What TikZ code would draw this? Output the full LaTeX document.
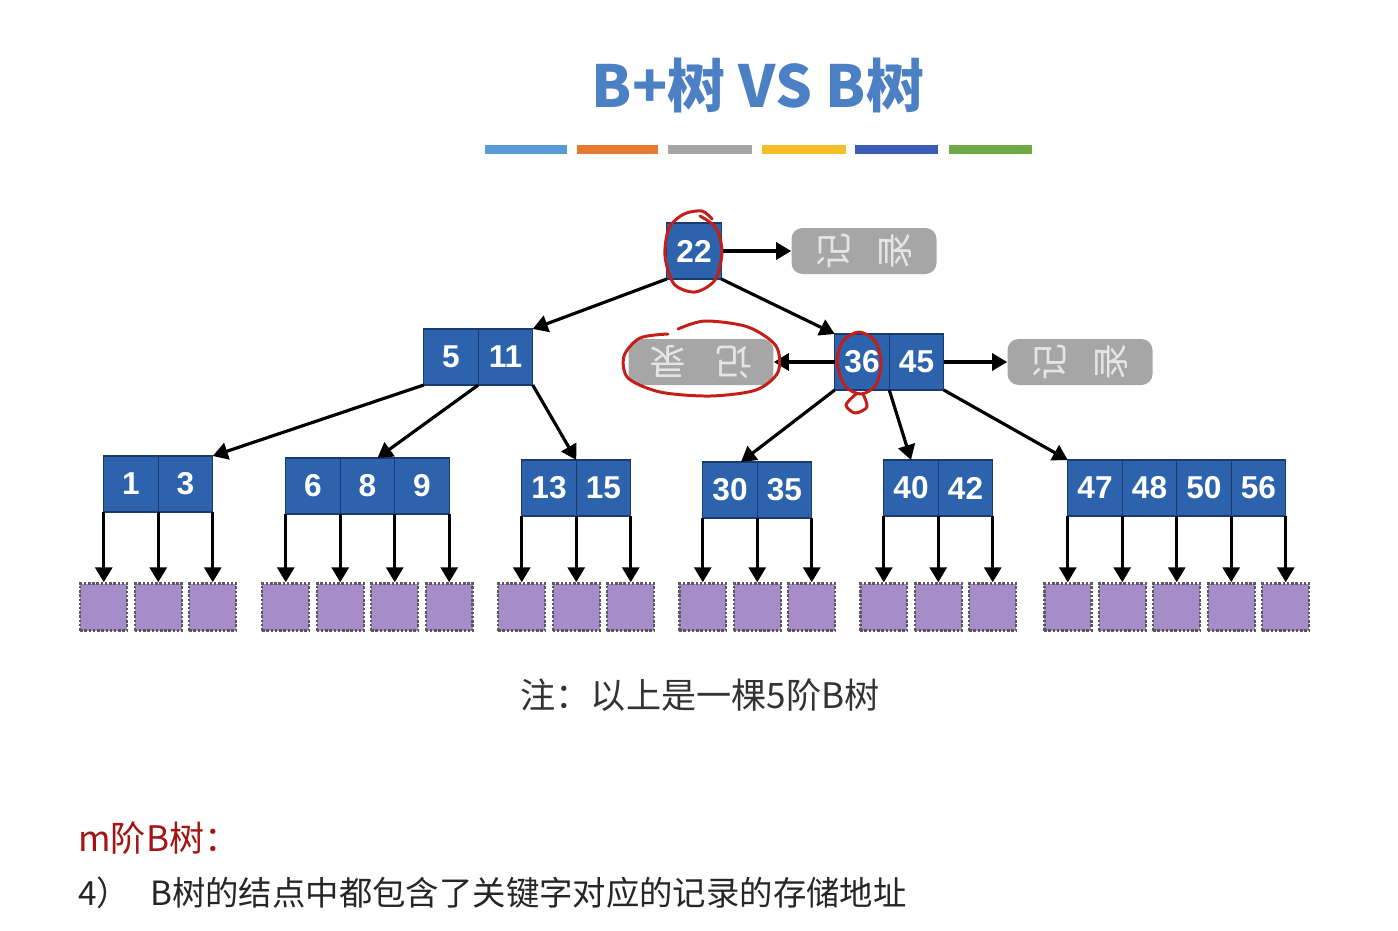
\documentclass[tikz,border=0pt]{standalone}
\usepackage{graphicx}
\usepackage{fontspec}
\setmainfont{Noto Sans CJK SC}
\newfontfamily\keyfont{Liberation Sans}
\usetikzlibrary{positioning,arrows.meta}

\definecolor{titleblue}{HTML}{4C80C4}
\definecolor{cellblue}{HTML}{2C63AC}
\definecolor{cellline}{HTML}{1B3A6E}
\definecolor{recgray}{HTML}{A6A6A6}
\definecolor{datapurple}{HTML}{A68CC8}
\definecolor{markred}{HTML}{C41E1A}
\definecolor{notered}{HTML}{A31515}
\definecolor{textgray}{HTML}{333333}

\tikzset{
  cell/.style={draw=cellline, line width=0.8pt, fill=cellblue, minimum width=1.09cm, minimum height=1.12cm,
    inner sep=0pt, outer sep=0pt, text=white, font=\keyfont\bfseries\fontsize{18}{18}\selectfont},
  record/.style={fill=recgray, rounded corners=0.22cm, minimum width=2.9cm, minimum height=0.92cm,
    inner sep=0pt, text=black!10, font=\fontsize{21}{21}\selectfont},
  datum/.style={draw=black!65, densely dotted, line width=1.4pt, fill=datapurple, minimum size=0.94cm, inner sep=0pt},
  arr/.style={line width=1.8pt, -{Triangle[length=0.3cm,width=0.34cm]}},
  redmark/.style={draw=markred, line width=1.7pt, line cap=round, line join=round},
}

\begin{document}
\begin{tikzpicture}[x=0.02cm, y=-0.02cm]
\useasboundingbox (0,0) rectangle (1398,930);

\node[font=\bfseries\fontsize{33}{33}\selectfont, text=titleblue] (title) at (758,85) {B+树 VS B树};
\fill[fill={rgb,255:red,91;green,155;blue,213}] (485,145) rectangle (567,154);
\fill[fill={rgb,255:red,229;green,122;blue,52}] (577,145) rectangle (658,154);
\fill[fill={rgb,255:red,165;green,165;blue,165}] (668,145) rectangle (752,154);
\fill[fill={rgb,255:red,245;green,190;blue,40}] (762,145) rectangle (846,154);
\fill[fill={rgb,255:red,58;green,92;blue,180}] (855,145) rectangle (938,154);
\fill[fill={rgb,255:red,112;green,168;blue,72}] (949,145) rectangle (1032,154);

\node[cell] (k22) at (694,251) {22};
\node[record] (rec1) at (864,251) {\rotatebox{90}{记}\hspace{0.8em}\rotatebox{90}{录}};
\draw[arr] (k22.east) -- (rec1.west);

\node[cell] (k5) at (451,357) {5};
\node[cell, right=0pt of k5] (k11) {11};
\node[cell] (k36) at (862,362) {36};
\node[cell, right=0pt of k36] (k45) {45};
\node[record] (rec2) at (1080,362) {\rotatebox{90}{记}\hspace{0.8em}\rotatebox{90}{录}};
\node[record] (rec3) at (701,362) {\rotatebox{180}{记\hspace{0.8em}录}};
\draw[arr] (k45.east) -- (rec2.west);
\draw[arr] (k36.west) -- (rec3.east);
\draw[arr] (k22.south west) -- (k11.north east);
\draw[arr] (k22.south east) -- (k36.north west);

\node[cell] (k1) at (131,484) {1};
\node[cell, right=0pt of k1] (k3) {3};
\node[cell] (k6) at (313,486) {6};
\node[cell, right=0pt of k6] (k8) {8};
\node[cell, right=0pt of k8] (k9) {9};
\node[cell] (k13) at (549,488) {13};
\node[cell, right=0pt of k13] (k15) {15};
\node[cell] (k30) at (730,490) {30};
\node[cell, right=0pt of k30] (k35) {35};
\node[cell] (k40) at (911,488) {40};
\node[cell, right=0pt of k40] (k42) {42};
\node[cell] (k47) at (1095,488) {47};
\node[cell, right=0pt of k47] (k48) {48};
\node[cell, right=0pt of k48] (k50) {50};
\node[cell, right=0pt of k50] (k56) {56};

\draw[arr] (k5.south west) -- (k3.north east);
\draw[arr] (k11.south west) -- ([xshift=0.2cm]k8.north);
\draw[arr] (k11.south east) -- (k13.north east);
\draw[arr] (k36.south west) -- ([xshift=0.22cm]k30.north);
\draw[arr] (k45.south west) -- (k40.north);
\draw[arr] (k45.south east) -- (k47.north west);

\node[datum] (d1) at (k1.south west |- 0,607) {};  \draw[arr] (k1.south west) -- (d1);
\node[datum] (d2) at (k1.south east |- 0,607) {};  \draw[arr] (k1.south east) -- (d2);
\node[datum] (d3) at (k3.south east |- 0,607) {};  \draw[arr] (k3.south east) -- (d3);
\node[datum] (d4) at (k6.south west |- 0,607) {};  \draw[arr] (k6.south west) -- (d4);
\node[datum] (d5) at (k6.south east |- 0,607) {};  \draw[arr] (k6.south east) -- (d5);
\node[datum] (d6) at (k8.south east |- 0,607) {};  \draw[arr] (k8.south east) -- (d6);
\node[datum] (d7) at (k9.south east |- 0,607) {};  \draw[arr] (k9.south east) -- (d7);
\node[datum] (d8) at (k13.south west |- 0,607) {}; \draw[arr] (k13.south west) -- (d8);
\node[datum] (d9) at (k13.south east |- 0,607) {}; \draw[arr] (k13.south east) -- (d9);
\node[datum] (d10) at (k15.south east |- 0,607) {}; \draw[arr] (k15.south east) -- (d10);
\node[datum] (d11) at (k30.south west |- 0,607) {}; \draw[arr] (k30.south west) -- (d11);
\node[datum] (d12) at (k30.south east |- 0,607) {}; \draw[arr] (k30.south east) -- (d12);
\node[datum] (d13) at (k35.south east |- 0,607) {}; \draw[arr] (k35.south east) -- (d13);
\node[datum] (d14) at (k40.south west |- 0,607) {}; \draw[arr] (k40.south west) -- (d14);
\node[datum] (d15) at (k40.south east |- 0,607) {}; \draw[arr] (k40.south east) -- (d15);
\node[datum] (d16) at (k42.south east |- 0,607) {}; \draw[arr] (k42.south east) -- (d16);
\node[datum] (d17) at (k47.south west |- 0,607) {}; \draw[arr] (k47.south west) -- (d17);
\node[datum] (d18) at (k47.south east |- 0,607) {}; \draw[arr] (k47.south east) -- (d18);
\node[datum] (d19) at (k48.south east |- 0,607) {}; \draw[arr] (k48.south east) -- (d19);
\node[datum] (d20) at (k50.south east |- 0,607) {}; \draw[arr] (k50.south east) -- (d20);
\node[datum] (d21) at (k56.south east |- 0,607) {}; \draw[arr] (k56.south east) -- (d21);

% hand-drawn red marks
\draw[redmark] plot[smooth] coordinates {(700,216) (716,228) (722,252) (715,280) (695,292) (674,284) (665,256) (669,228) (684,214) (702,211) (712,219)};
\draw[redmark] plot[smooth cycle] coordinates {(859,332) (875,341) (881,362) (876,385) (861,394) (845,386) (837,362) (843,341)};
\draw[redmark] plot[smooth] coordinates {(856,394) (846,405) (855,413) (867,407) (863,394)};
\draw[redmark] plot[smooth] coordinates {(668,334) (640,338) (624,356) (628,378) (660,392) (710,396) (756,390) (778,372) (776,346) (748,327) (705,321) (678,329)};

\node[font=\fontsize{20}{20}\selectfont, text=textgray] (note) at (700,695) {注：以上是一棵5阶B树};
\node[font=\fontsize{20}{20}\selectfont, text=notered, anchor=west, inner sep=0pt] (mtree) at (78,838) {m阶B树：};
\node[font=\fontsize{19}{19}\selectfont, text=black!85, anchor=west, inner sep=0pt] (rule4) at (78,893) {4）\hspace{0.6em}B树的结点中都包含了关键字对应的记录的存储地址};
\end{tikzpicture}
\end{document}
